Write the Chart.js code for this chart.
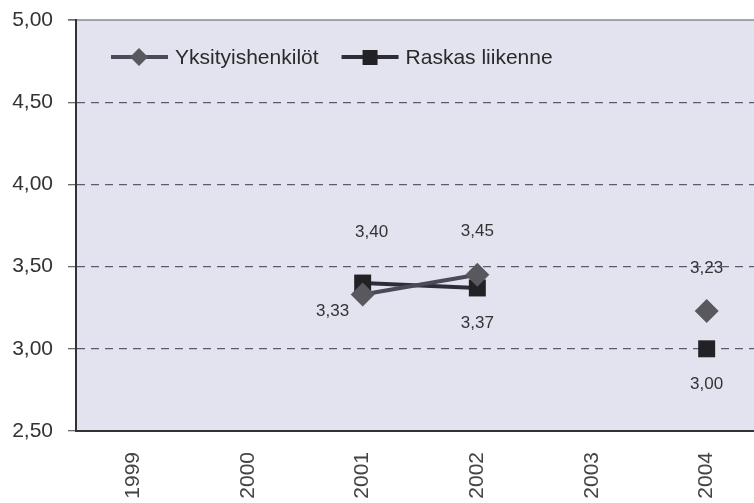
<!DOCTYPE html>
<html>
<head>
<meta charset="utf-8">
<script src="https://cdn.jsdelivr.net/npm/chart.js@4"></script>
<style>
  html, body { margin: 0; padding: 0; background: #fff; overflow: hidden; }
  #wrap { width: 776px; height: 503px; }
</style>
</head>
<body>
<div id="wrap"><canvas id="chart"></canvas></div>
<script>
// Chart data
const years = ['1999', '2000', '2001', '2002', '2003', '2004'];
const yksityishenkilot = [null, null, 3.33, 3.45, null, 3.23];
const raskasLiikenne = [null, null, 3.40, 3.37, null, 3.00];
const yTicks = [2.5, 3.0, 3.5, 4.0, 4.5, 5.0];

const font = '"Liberation Sans", Arial, sans-serif';

// label offsets per dataset (dx, dy from the point)
const labelOffsets = [
  { 2: [-30, 17], 3: [0, -44], 5: [0, -43] },
  { 2: [9, -51], 3: [0, 35], 5: [0, 36] },
];

const fmt = v => v.toFixed(2).replace('.', ',');

const plotBackground = {
  id: 'plotBackground',
  beforeDraw(chart) {
    const { ctx, chartArea: a } = chart;
    ctx.save();
    ctx.fillStyle = '#e3e3ef';
    ctx.fillRect(a.left, a.top, a.right - a.left, a.bottom - a.top);
    // solid top line at 5,00
    ctx.strokeStyle = '#8a8a94';
    ctx.lineWidth = 1.5;
    ctx.beginPath();
    ctx.moveTo(a.left - 8, a.top);
    ctx.lineTo(a.right, a.top);
    ctx.stroke();
    ctx.restore();
  },
};

const valueLabels = {
  id: 'valueLabels',
  afterDatasetsDraw(chart) {
    const { ctx } = chart;
    ctx.save();
    ctx.font = '17px ' + font;
    ctx.fillStyle = '#333';
    ctx.textAlign = 'center';
    ctx.textBaseline = 'middle';
    chart.data.datasets.forEach((ds, i) => {
      const meta = chart.getDatasetMeta(i);
      ds.data.forEach((v, j) => {
        if (v === null) return;
        const p = meta.data[j];
        const off = labelOffsets[i][j] || [0, -30];
        ctx.fillText(fmt(v), p.x + off[0], p.y + off[1]);
      });
    });
    ctx.restore();
  },
};

const insideLegend = {
  id: 'insideLegend',
  afterDraw(chart) {
    const { ctx, chartArea: a } = chart;
    const y = a.top + 37;
    let x = a.left + 35;
    ctx.save();
    ctx.font = '21px ' + font;
    ctx.textBaseline = 'middle';
    chart.data.datasets.forEach(ds => {
      ctx.strokeStyle = ds.borderColor;
      ctx.lineWidth = 4;
      ctx.beginPath();
      ctx.moveTo(x, y);
      ctx.lineTo(x + 57, y);
      ctx.stroke();
      ctx.fillStyle = ds.pointBackgroundColor;
      ctx.beginPath();
      if (ds.pointStyle === 'rectRot') {
        ctx.moveTo(x + 28, y - 9);
        ctx.lineTo(x + 37, y);
        ctx.lineTo(x + 28, y + 9);
        ctx.lineTo(x + 19, y);
        ctx.closePath();
      } else {
        ctx.rect(x + 21, y - 7, 15, 15);
      }
      ctx.fill();
      ctx.fillStyle = '#2a2a2a';
      ctx.fillText(ds.label, x + 64, y + 1);
      x += 64 + ctx.measureText(ds.label).width + 23;
    });
    ctx.restore();
  },
};

const ctx = document.getElementById('chart').getContext('2d');
new Chart(ctx, {
  type: 'line',
  data: {
    labels: years,
    datasets: [
      {
        label: 'Yksityishenkilöt',
        data: yksityishenkilot,
        borderColor: '#4a4b5a',
        borderWidth: 4,
        pointStyle: 'rectRot',
        pointRadius: 12,
        pointHoverRadius: 12,
        pointBackgroundColor: '#58585e',
        pointBorderWidth: 0,
        spanGaps: false,
      },
      {
        label: 'Raskas liikenne',
        data: raskasLiikenne,
        borderColor: '#2c2d38',
        borderWidth: 4,
        pointStyle: 'rect',
        pointRadius: 12,
        pointHoverRadius: 12,
        pointBackgroundColor: '#222226',
        pointBorderWidth: 0,
        spanGaps: false,
      },
    ],
  },
  options: {
    responsive: true,
    maintainAspectRatio: false,
    animation: false,
    layout: { padding: { top: 20, right: 0, left: 0, bottom: 0 } },
    plugins: {
      legend: { display: false },
      tooltip: { enabled: false },
    },
    scales: {
      x: {
        offset: true,
        grid: { display: false },
        border: { display: true, color: '#333', width: 2 },
        ticks: {
          minRotation: 90,
          maxRotation: 90,
          padding: 13,
          color: '#444',
          font: { family: font, size: 21 },
        },
        afterFit(scale) { scale.height = 72; },
      },
      y: {
        min: 2.5,
        max: 5.0,
        afterBuildTicks(scale) {
          scale.ticks = yTicks.map(v => ({ value: v }));
        },
        grid: {
          color: c => (c.tick && (c.tick.value === 5 || c.tick.value === 2.5)) ? 'rgba(0,0,0,0)' : '#5a5c6e',
          tickColor: '#6a6a74',
          lineWidth: 1.3,
          tickLength: 8,
        },
        border: { display: true, color: '#333', width: 2, dash: [8, 6] },
        ticks: {
          padding: 15,
          color: '#333',
          font: { family: font, size: 21 },
          callback: v => fmt(v),
        },
        afterFit(scale) {
          scale.width = 76;
          scale.paddingTop = 0;
          scale.paddingBottom = 0;
        },
      },
    },
  },
  plugins: [plotBackground, valueLabels, insideLegend],
});
</script>
</body>
</html>
